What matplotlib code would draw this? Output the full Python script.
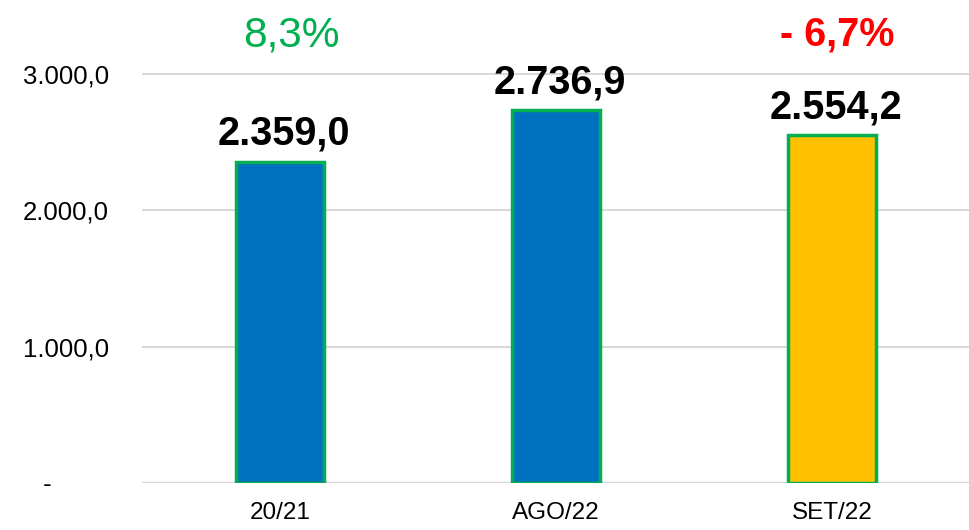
import matplotlib
matplotlib.use("Agg")
import matplotlib.pyplot as plt

categories = ["20/21", "AGO/22", "SET/22"]
values = [2359.0, 2736.9, 2554.2]
value_labels = ["2.359,0", "2.736,9", "2.554,2"]
bar_colors = ["#0070C0", "#0070C0", "#FFC000"]
yticks = [0, 1000, 2000, 3000]
ytick_labels = [" -        ", "1.000,0", "2.000,0", "3.000,0"]
pct_labels = ["8,3%", "- 6,7%"]

plt.rcParams['font.family'] = ['Liberation Sans', 'DejaVu Sans']

fig = plt.figure(figsize=(9.7, 5.3), dpi=100)
ax = fig.add_axes([142/970, 47/530, 828/970, 477/530])

x = list(range(len(categories)))
ax.bar(x, values, width=0.32, color=bar_colors, edgecolor="#00B050", linewidth=2.5, zorder=3)
ax.set_xlim(-0.5, 2.5)
ax.set_ylim(0, 3500)

ax.set_yticks(yticks)
ax.set_yticklabels(ytick_labels, fontsize=18.5)
ax.set_xticks(x)
ax.set_xticklabels(categories, fontsize=17.5)
ax.tick_params(axis='y', length=0, pad=24)
ax.tick_params(axis='x', length=0, pad=14)

for s in ax.spines.values():
    s.set_visible(False)
ax.grid(axis='y', color="#D9D9D9", linewidth=1.5, zorder=0)
ax.axhline(0, color="#D9D9D9", linewidth=2.5, zorder=2)

for xi, v, lab in zip(x, values, value_labels):
    ax.annotate(lab, (xi, v), xytext=(3, 12), textcoords="offset points",
                ha="center", va="baseline", fontsize=28.5, fontweight="bold", color="black")

# percentage annotations at the top
ax.text(0.04, 1 - 30/477, pct_labels[0], transform=ax.get_xaxis_transform(),
        ha="center", va="center", fontsize=30.5, color="#00B050")
ax.text(2.02, 1 - 28/477, pct_labels[1], transform=ax.get_xaxis_transform(),
        ha="center", va="center", fontsize=28.5, fontweight="bold", color="#FF0000")

fig.savefig("out.png", dpi=100)
